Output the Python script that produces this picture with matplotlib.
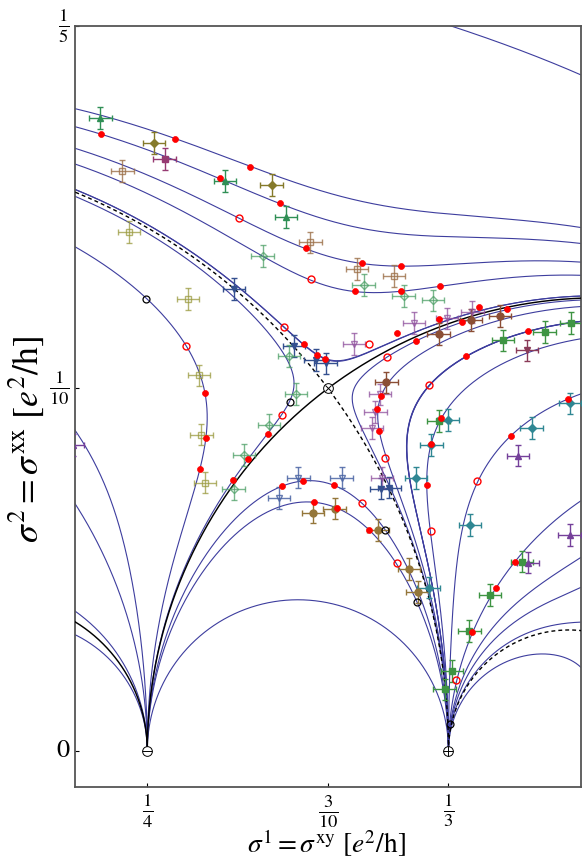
import numpy as np
import matplotlib
matplotlib.use("Agg")
import matplotlib.pyplot as plt

plt.rcParams['font.family'] = ['STIXGeneral', 'DejaVu Serif']
plt.rcParams['mathtext.fontset'] = 'stix'

# ---------------- data ----------------
# points (sigma1, sigma2) through which each theoretical flow line passes
flow_anchor_s1 = [0.37000, 0.23000, 0.23000, 0.23000, 0.23000, 0.29329, 0.29927, 0.28714,
                  0.23000, 0.23000, 0.23000, 0.23000, 0.23000, 0.29309, 0.29624, 0.31471,
                  0.33133, 0.35055, 0.35174, 0.37000, 0.37000, 0.37000, 0.37000,
                  0.35540, 0.33831, 0.32803, 0.33712]
flow_anchor_s2 = [0.18650, 0.17719, 0.17222, 0.16625, 0.16192, 0.11212, 0.10806, 0.09268,
                  0.13908, 0.08846, 0.06821, 0.03855, 0.03204, 0.07445, 0.06857, 0.09793,
                  0.09169, 0.08688, 0.05220, 0.05338, 0.04510, 0.03551, 0.02300,
                  0.11572, 0.10881, 0.10089, 0.11828]
# separatrices / phase boundaries: semicircles between rational end points
blue_geodesic_ends = [(1/4, 1/3)]
solid_geodesic_ends = [(1/6, 1/4), (1/4, 1/2)]
dashed_geodesic_ends = [(0.0, 1/3), (1/3, 2/5)]

# theory markers
red_dot_s1 = [0.23723, 0.25780, 0.27013, 0.27840, 0.28659, 0.29384, 0.30928, 0.32022, 0.30735,
              0.32022, 0.29329, 0.29695, 0.29927, 0.31912, 0.32436, 0.31471, 0.33087, 0.33070,
              0.34173, 0.34961, 0.33712, 0.33831, 0.35540, 0.26599, 0.26627, 0.26461, 0.27379,
              0.27793, 0.28336, 0.28722, 0.29309, 0.30156, 0.29624, 0.30247, 0.31129, 0.31369,
              0.31405, 0.33133, 0.32858, 0.32728, 0.35055, 0.36643, 0.35174, 0.34642, 0.33996]
red_dot_s2 = [0.17029, 0.16891, 0.15797, 0.16117, 0.15115, 0.13864, 0.13466, 0.13383, 0.12693,
              0.12693, 0.11212, 0.10925, 0.10806, 0.11516, 0.11312, 0.09793, 0.12831, 0.11920,
              0.12234, 0.12187, 0.11828, 0.10881, 0.11572, 0.09868, 0.08644, 0.07788, 0.07465,
              0.08053, 0.08744, 0.07299, 0.07445, 0.07327, 0.06857, 0.06692, 0.06103, 0.09426,
              0.08837, 0.09169, 0.08467, 0.07335, 0.08688, 0.09702, 0.05220, 0.04482, 0.03286]
red_ring_s1 = [0.27545, 0.29530, 0.26067, 0.28786, 0.31129, 0.31645, 0.32803, 0.28714, 0.30936,
               0.31912, 0.31589, 0.32838, 0.34126, 0.33547]
red_ring_s2 = [0.14692, 0.13008, 0.11174, 0.11690, 0.11221, 0.10862, 0.10089, 0.09268, 0.06849,
               0.05173, 0.08092, 0.06076, 0.07437, 0.01961]
black_ring_s1 = [0.24972, 0.28943, 0.31589, 0.32463, 0.33373]
black_ring_s2 = [0.12464, 0.09611, 0.06103, 0.04115, 0.00746]
# fixed points: repulsive cusp, attractive cusp, saddle
fixed_s1 = [1/4, 1/3, 3/10]
fixed_s2 = [0.0, 0.0, 1/10]

# experimental data (sigma_xy, sigma_xx) with error bars
gtri_x = [0.23704, 0.27150, 0.28832]; gtri_y = [0.17454, 0.15722, 0.14720]
odia_x = [0.25193, 0.28438]; odia_y = [0.16764, 0.15604]
msq_x = [0.25477]; msq_y = [0.16330]
bosq_x = [0.24311, 0.29513, 0.30798, 0.31829]; bosq_y = [0.16007, 0.14029, 0.13300, 0.13099]
oosq_x = [0.24495, 0.26130, 0.26425, 0.26497, 0.26599]
oosq_y = [0.14314, 0.12464, 0.10356, 0.08727, 0.07401]
btri_x = [0.27407, 0.29053, 0.29659, 0.29935, 0.31471, 0.31700]
btri_y = [0.12748, 0.11174, 0.10779, 0.10688, 0.07236, 0.07263]
godia_x = [0.28190, 0.30983, 0.32094, 0.28923, 0.29108, 0.32913, 0.28372, 0.27674, 0.27390]
godia_y = [0.13651, 0.12850, 0.12546, 0.10898, 0.09840, 0.12428, 0.09003, 0.08155, 0.07225]
popen_x = [0.32381, 0.30726, 0.33291, 0.33996, 0.31443, 0.31314, 0.31212, 0.31498]
popen_y = [0.11809, 0.11221, 0.11931, 0.12113, 0.09832, 0.09343, 0.08909, 0.07539]
brc_x = [0.31617, 0.33952, 0.34760, 0.33059]; brc_y = [0.10163, 0.11884, 0.11994, 0.11497]
gsq_x = [0.34843, 0.35993, 0.36737, 0.33059, 0.35375, 0.34476, 0.33914, 0.33429, 0.33224]
gsq_y = [0.11323, 0.11552, 0.11801, 0.09103, 0.05220, 0.04297, 0.03314, 0.02209, 0.01693]
mtri_x = [0.35513]; mtri_y = [0.11047]
gold_x = [0.29585, 0.30183, 0.31388, 0.32243, 0.32480]
gold_y = [0.06573, 0.06683, 0.06084, 0.05007, 0.04380]
lbtri_x = [0.29182, 0.30376, 0.28648]; lbtri_y = [0.07539, 0.07539, 0.06968]
teal_x = [0.32436, 0.33326, 0.32858, 0.33933, 0.35634, 0.36698, 0.32783]
teal_y = [0.07520, 0.09122, 0.08432, 0.06222, 0.08909, 0.09583, 0.04502]
ptri_x = [0.35256, 0.36682, 0.35532, 0.22934]; ptri_y = [0.08147, 0.05946, 0.05192, 0.08431]
err_x = 0.0031
err_y = 0.0030

x_ticks = [1/4, 3/10, 1/3]
x_ticklabels = [r'$\frac{1}{4}$', r'$\frac{3}{10}$', r'$\frac{1}{3}$']
y_ticks = [0.0, 1/10, 1/5]
y_ticklabels = ['0', r'$\frac{1}{10}$', r'$\frac{1}{5}$']
x_label = r'$\sigma^1 = \sigma^{\rm xy}\ [e^2/{\rm h}]$'
y_label = r'$\sigma^2 = \sigma^{\rm xx}\ [e^2/{\rm h}]$'

# ---------------- modular flow (Gamma_0(2)) ----------------
def _theta_logs(z):
    q = np.exp(1j*np.pi*z)
    s2 = np.zeros_like(z); s3 = np.ones_like(z); s4 = np.ones_like(z)
    for k in range(0, 8):
        s2 = s2 + q**(k*(k+1))
    for k in range(1, 8):
        s3 = s3 + 2*q**(k*k)
        s4 = s4 + 2*(-1)**k*q**(k*k)
    lt2 = np.log(2) + 1j*np.pi*z/4 + np.log(s2)
    return 4*(lt2 - np.log(s3)), 4*(np.log(s4) - np.log(s3))

def log_h(z):
    z = np.array(z, dtype=complex)
    ops = []
    for _ in range(120):
        n = np.round(z.real)
        z = z - n
        m = np.abs(z) < 1
        z = np.where(m, -1/np.where(m, z, 1), z)
        ops.append((np.mod(n, 2) == 1, m))
        if not m.any() and np.all(n == 0):
            break
    lL, lM = _theta_logs(z)
    for odd, m in reversed(ops):
        lL, lM = np.where(m, lM, lL), np.where(m, lL, lM)
        lL, lM = np.where(odd, lL - lM + 1j*np.pi, lL), np.where(odd, -lM, lM)
    return 2*lL - lM

def direction(z):
    eps = 1e-7
    n = len(z)
    F = log_h(np.concatenate([z + eps, z - eps]))
    d = F[:n] - F[n:]
    d = d.real + 1j*((d.imag + np.pi) % (2*np.pi) - np.pi)
    v = np.conj(d)
    return v/np.abs(v)

def trace(anchors):
    z0 = np.asarray(anchors, dtype=complex)
    n = len(z0)
    Z = np.concatenate([z0, z0])
    S = np.concatenate([np.ones(n), -np.ones(n)])
    paths = [[z] for z in Z]
    active = np.ones(2*n, bool)
    for _ in range(5000):
        idx = np.where(active)[0]
        if len(idx) == 0:
            break
        z = Z[idx]
        h = S[idx]*np.minimum(0.0003, 0.25*z.imag)
        k1 = direction(z)
        k2 = direction(z + 0.5*h*k1)
        zn = z + h*k2
        for j, i in enumerate(idx):
            paths[i].append(zn[j])
        Z[idx] = zn
        out = (~np.isfinite(zn)) | (zn.real < 0.2295) | (zn.real > 0.3705) | \
              (zn.imag > 0.2005) | (zn.imag < 0.0003)
        active[idx[out]] = False
    lines = []
    for k in range(n):
        pts = paths[n + k][::-1] + paths[k][1:]
        pts = np.array([p for p in pts if np.isfinite(p)])
        lines.append(pts)
    return lines

def semicircle(a, b, num=800):
    t = np.linspace(0, np.pi, num)
    c, r = (a + b)/2, (b - a)/2
    return c + r*np.cos(t), r*np.sin(t)

# ---------------- figure ----------------
fig = plt.figure(figsize=(5.82, 8.61), dpi=100)
ax = fig.add_axes([75/582, 74/861, 506/582, 761/861])
BLUE = '#3d3d9e'

anchors = np.array(flow_anchor_s1) + 1j*np.array(flow_anchor_s2)
for ln in trace(anchors):
    ax.plot(ln.real, ln.imag, color=BLUE, lw=0.8, zorder=2)
for a, b in blue_geodesic_ends:
    ax.plot(*semicircle(a, b), color=BLUE, lw=0.8, zorder=2)
for a, b in solid_geodesic_ends:
    ax.plot(*semicircle(a, b), color='black', lw=1.05, zorder=3)
for a, b in dashed_geodesic_ends:
    ax.plot(*semicircle(a, b), color='black', lw=1.0, dashes=(2.8, 2.2), zorder=3)

def series(xs, ys, color, marker, filled=True, ms=5.0, alpha=1.0):
    ax.errorbar(xs, ys, xerr=err_x, yerr=err_y, fmt='none', ecolor=color, elinewidth=1.0,
                capsize=2.2, capthick=1.0, alpha=alpha, zorder=4)
    ax.plot(xs, ys, ls='none', marker=marker, ms=ms, mec=color,
            mfc=color if filled else 'none', mew=1.0, alpha=alpha, zorder=5)

series(gtri_x, gtri_y, '#2f8f55', '^')
series(odia_x, odia_y, '#857a2a', 'D', ms=4.2)
series(msq_x, msq_y, '#963a72', 's', ms=4.5)
series(bosq_x, bosq_y, '#9c7048', 's', filled=False, ms=4.5, alpha=0.8)
series(oosq_x, oosq_y, '#9a9a3e', 's', filled=False, ms=4.5, alpha=0.75)
series(btri_x, btri_y, '#34508f', 'v')
series(godia_x, godia_y, '#4c9f66', 'D', filled=False, ms=3.8, alpha=0.75)
series(popen_x, popen_y, '#8e4f9c', 'v', filled=False, ms=4.5, alpha=0.75)
series(brc_x, brc_y, '#8b4e35', 'o', ms=5.0)
series(gsq_x, gsq_y, '#3e9443', 's', ms=4.5)
series(mtri_x, mtri_y, '#8a3a58', 'v', ms=5.0)
series(gold_x, gold_y, '#94763a', 'o', ms=5.0)
series(lbtri_x, lbtri_y, '#4a64a4', 'v', filled=False, ms=4.5, alpha=0.85)
series(teal_x, teal_y, '#2f8793', 'D', ms=4.0)
series(ptri_x, ptri_y, '#75409a', '^', ms=5.0)

ax.plot(red_dot_s1, red_dot_s2, 'o', ls='none', ms=4.3, mfc='red', mec='red', mew=0.5, zorder=6)
ax.plot(red_ring_s1, red_ring_s2, 'o', ls='none', ms=5.0, mfc='none', mec='red', mew=1.0, zorder=6)
ax.plot(black_ring_s1, black_ring_s2, 'o', ls='none', ms=5.0, mfc='none', mec='black', mew=0.9, zorder=6)
ax.plot(fixed_s1, fixed_s2, 'o', ls='none', ms=7.0, mfc='white', mec='black', mew=0.7, zorder=7)
ax.plot(fixed_s1[0], fixed_s2[0], marker='_', ms=7.0, mec='black', mew=0.7, zorder=8)
ax.plot(fixed_s1[1], fixed_s2[1], marker='+', ms=7.0, mec='black', mew=0.7, zorder=8)
ax.plot(fixed_s1[2], fixed_s2[2], marker='x', ms=5.0, mec='black', mew=0.7, zorder=8)

ax.set_xlim(0.23, 0.37)
ax.set_ylim(-0.01, 0.2)
ax.set_xticks(x_ticks)
ax.set_xticklabels(x_ticklabels, fontsize=19)
ax.set_yticks(y_ticks)
ax.set_yticklabels(y_ticklabels, fontsize=19, va='center')
ax.tick_params(direction='in', length=3, width=0.8, pad=4)
for sp in ax.spines.values():
    sp.set_color('#555555')
    sp.set_linewidth(1.3)

xl = ax.set_xlabel(x_label, fontsize=16)
yl = ax.set_ylabel(y_label, fontsize=18)
fig.canvas.draw()
r = fig.canvas.get_renderer()
xl.set_fontsize(16*160.0/xl.get_window_extent(r).width)
yl.set_fontsize(18*208.0/yl.get_window_extent(r).height)
ax.xaxis.set_label_coords(0.4975, -0.054)
ax.yaxis.set_label_coords(-0.058, 0.457)

fig.savefig("out.png", dpi=100)
